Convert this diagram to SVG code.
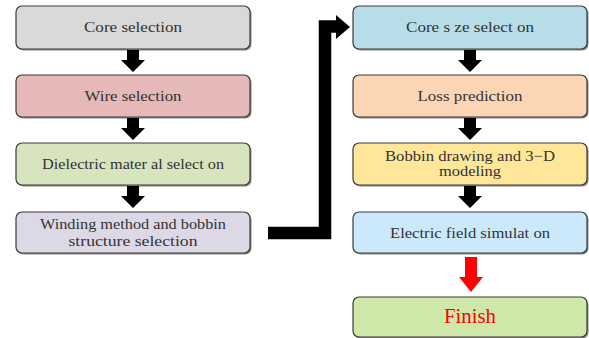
<svg xmlns="http://www.w3.org/2000/svg" xmlns:xlink="http://www.w3.org/1999/xlink" width="589" height="338" viewBox="0 0 589 338">
<style>
.box{stroke:#3a3a3a;stroke-width:1.2}
.sh{fill:#8a8a8a}
.t{font-family:"Liberation Serif","Times New Roman",serif;font-size:15px;fill:#333;text-anchor:middle}
.fin{font-family:"Liberation Serif","Times New Roman",serif;font-size:21px;fill:#ff0000;text-anchor:middle}
</style>
<defs>
<path id="dn" d="M-6,0 H6 V10 H12 L0,22 L-12,10 H-6 Z" fill="#000"/>
</defs>
<rect width="589" height="338" fill="#fff"/>

<g id="n1">
<rect class="sh" x="17.5" y="7.5" width="234" height="43" rx="6"/>
<rect class="box" x="16" y="6" width="234" height="43" rx="6" fill="#d9d9d9"/>
<text class="t" x="133" y="32" textLength="98" lengthAdjust="spacingAndGlyphs">Core selection</text>
</g>
<g id="n2">
<rect class="sh" x="17.5" y="76.5" width="234" height="42" rx="6"/>
<rect class="box" x="16" y="75" width="234" height="42" rx="6" fill="#e6b9b8"/>
<text class="t" x="133" y="101" textLength="97" lengthAdjust="spacingAndGlyphs">Wire selection</text>
</g>
<g id="n3">
<rect class="sh" x="17.5" y="144.5" width="234" height="42" rx="6"/>
<rect class="box" x="16" y="143" width="234" height="42" rx="6" fill="#d7e4bd"/>
<text class="t" x="133" y="169" textLength="182" lengthAdjust="spacingAndGlyphs">Dielectric mater al select on</text>
</g>
<g id="n4">
<rect class="sh" x="17.5" y="213.5" width="234" height="41" rx="6"/>
<rect class="box" x="16" y="212" width="234" height="41" rx="6" fill="#ddd8e6"/>
<text class="t" x="133" y="229" textLength="186" lengthAdjust="spacingAndGlyphs">Winding method and bobbin</text>
<text class="t" x="133" y="246" textLength="129" lengthAdjust="spacingAndGlyphs">structure selection</text>
</g>

<g id="n5">
<rect class="sh" x="354.5" y="7.5" width="234" height="43" rx="6"/>
<rect class="box" x="353" y="6" width="234" height="43" rx="6" fill="#b7dee8"/>
<text class="t" x="470" y="32" textLength="128" lengthAdjust="spacingAndGlyphs">Core s ze select on</text>
</g>
<g id="n6">
<rect class="sh" x="354.5" y="76.5" width="234" height="42" rx="6"/>
<rect class="box" x="353" y="75" width="234" height="42" rx="6" fill="#fcd5b5"/>
<text class="t" x="470" y="101" textLength="105" lengthAdjust="spacingAndGlyphs">Loss prediction</text>
</g>
<g id="n7">
<rect class="sh" x="354.5" y="144.5" width="234" height="42" rx="6"/>
<rect class="box" x="353" y="143" width="234" height="42" rx="6" fill="#ffe699"/>
<text class="t" x="470" y="161" textLength="170" lengthAdjust="spacingAndGlyphs">Bobbin drawing and 3−D</text>
<text class="t" x="470" y="176" textLength="62" lengthAdjust="spacingAndGlyphs">modeling</text>
</g>
<g id="n8">
<rect class="sh" x="354.5" y="213.5" width="234" height="41" rx="6"/>
<rect class="box" x="353" y="212" width="234" height="41" rx="6" fill="#cce9fb"/>
<text class="t" x="470" y="238" textLength="160" lengthAdjust="spacingAndGlyphs">Electric field simulat on</text>
</g>
<g id="n9">
<rect class="sh" x="354.5" y="298.5" width="234" height="40" rx="6"/>
<rect class="box" x="353" y="297" width="234" height="40" rx="6" fill="#cde8a9"/>
<text class="fin" x="470" y="323" textLength="52" lengthAdjust="spacingAndGlyphs">Finish</text>
</g>

<g id="connectors">
<use xlink:href="#dn" href="#dn" x="133" y="50"/>
<use xlink:href="#dn" href="#dn" x="133" y="118"/>
<use xlink:href="#dn" href="#dn" x="133" y="186"/>
<use xlink:href="#dn" href="#dn" x="470" y="50"/>
<use xlink:href="#dn" href="#dn" x="470" y="118"/>
<use xlink:href="#dn" href="#dn" x="470" y="186"/>
<path d="M465,257 H477 V277 H483 L471,292 L459,277 H465 Z" fill="#ff0000"/>
<polyline points="268,233 325,233 325,26.5 337,26.5" fill="none" stroke="#000" stroke-width="12.5" stroke-linejoin="miter"/>
<polygon points="336,15 350,27 336,39" fill="#000"/>
</g>
</svg>
